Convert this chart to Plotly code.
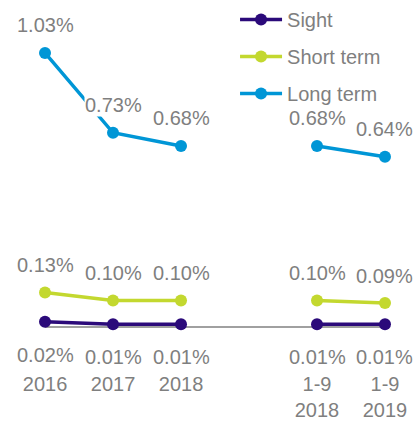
import plotly.graph_objects as go

categories = ["2016", "2017", "2018", " ", "1-9<br>2018", "1-9<br>2019"]
sight = [0.02, 0.01, 0.01, None, 0.01, 0.01]
short_term = [0.13, 0.10, 0.10, None, 0.10, 0.09]
long_term = [1.03, 0.73, 0.68, None, 0.68, 0.64]

series = [
    ("Sight", sight, "#2B0A7A", -33),
    ("Short term", short_term, "#C3D82F", 27),
    ("Long term", long_term, "#0096D6", 28),
]

FONT = "Arial, Liberation Sans, sans-serif"
GREY = "#7F7F7F"

fig = go.Figure()
for name, vals, color, shift in series:
    fig.add_trace(go.Scatter(
        x=categories, y=vals, name=name, mode="lines+markers",
        line=dict(color=color, width=3.5), marker=dict(color=color, size=12),
        connectgaps=False, legendgroup=name, cliponaxis=False,
    ))
    for i, v in enumerate(vals):
        if v is None:
            continue
        fig.add_annotation(
            x=i, y=v, xref="x", yref="y", text=f"{v:.2f}%", showarrow=False,
            yshift=shift, font=dict(family=FONT, size=20, color=GREY),
            bgcolor="white", borderpad=0,
        )

fig.add_shape(type="line", xref="x", yref="y", x0=0, x1=len(categories) - 1,
              y0=0, y1=0, line=dict(color="#808080", width=1.5), layer="below")

fig.update_layout(
    width=416, height=423,
    margin=dict(l=0, r=0, t=0, b=63, autoexpand=False),
    paper_bgcolor="white", plot_bgcolor="white",
    font=dict(family=FONT, size=20, color=GREY),
    showlegend=True,
    legend=dict(x=0.565, y=1.0, xanchor="left", yanchor="top",
                bgcolor="rgba(0,0,0,0)", tracegroupgap=8, itemwidth=42,
                font=dict(family=FONT, size=20, color=GREY)),
    xaxis=dict(type="category", range=[-0.662, 5.456], showgrid=False,
               zeroline=False, showline=False, ticks="", ticklabelstandoff=10,
               automargin=False,
               tickfont=dict(family=FONT, size=20, color=GREY)),
    yaxis=dict(range=[-0.124, 1.229], visible=False, showgrid=False, zeroline=False,
               automargin=False),
)

fig.write_html("out.html", config={"displayModeBar": False},
               post_script="document.body.style.margin='0';")
